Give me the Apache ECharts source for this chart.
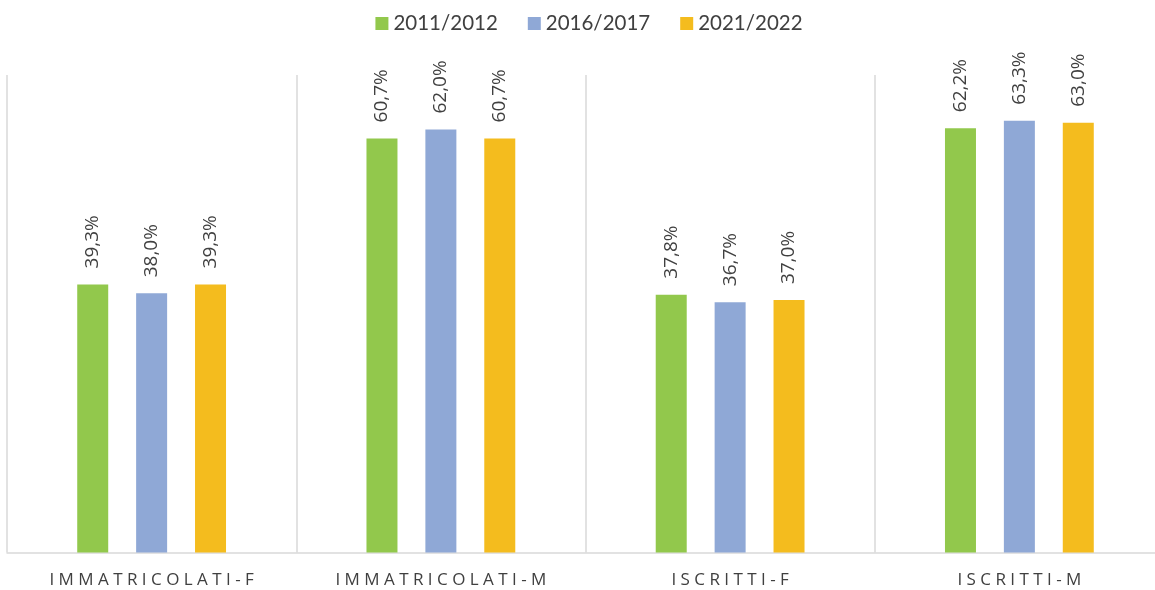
<!DOCTYPE html>
<html>
<head>
<meta charset="utf-8">
<script src="https://cdn.jsdelivr.net/npm/echarts@6/dist/echarts.min.js"></script>
<style>
html,body{margin:0;padding:0;background:#fff;overflow:hidden;}
body{width:1155px;height:590px;}
#c{width:1178px;height:590px;}
</style>
</head>
<body>
<div id="c"></div>
<script>
var categories = ['IMMATRICOLATI-F', 'IMMATRICOLATI-M', 'ISCRITTI-F', 'ISCRITTI-M'];
var seriesNames = ['2011/2012', '2016/2017', '2021/2022'];
var values2011 = [39.3, 60.7, 37.8, 62.2];
var values2016 = [38.0, 62.0, 36.7, 63.3];
var values2021 = [39.3, 60.7, 37.0, 63.0];
var colors = ['#92C84C', '#8FA8D6', '#F4BC1E'];

var chart = echarts.init(document.getElementById('c'), null, {renderer: 'canvas'});
var FONT = 'Lato, "Open Sans", sans-serif';
var FONT2 = '"Open Sans", Lato, sans-serif';

function mkSeries(name, data, color) {
  return {
    name: name,
    type: 'bar',
    data: data,
    barWidth: 31,
    barGap: '90%',
    itemStyle: {color: color},
    label: {
      show: true,
      position: 'top',
      rotate: 90,
      align: 'left',
      verticalAlign: 'middle',
      distance: 16,
      color: '#404040',
      fontFamily: FONT2,
      fontSize: 19,
      formatter: function (p) { return p.value.toFixed(1).replace('.', ',') + '%'; }
    }
  };
}

chart.setOption({
  animation: false,
  textStyle: {fontFamily: FONT},
  legend: {
    top: 8,
    left: 'center',
    itemWidth: 13,
    itemHeight: 13,
    itemGap: 30,
    icon: 'rect',
    textStyle: {fontSize: 20.5, color: '#404040', fontFamily: FONT},
    data: seriesNames
  },
  grid: {left: 7, top: 75, right: 14, bottom: 37.5, containLabel: false},
  xAxis: {
    type: 'category',
    data: categories,
    boundaryGap: true,
    axisLine: {show: true, lineStyle: {color: '#d9d9d9', width: 1.5}},
    axisTick: {show: false},
    splitLine: {show: true, interval: 0, lineStyle: {color: '#d9d9d9', width: 1.5}},
    axisLabel: {
      interval: 0,
      margin: 19,
      fontSize: 17,
      color: '#404040',
      fontFamily: FONT2,
      formatter: function (v) { return v.split('').join(' '); }
    }
  },
  yAxis: {
    type: 'value',
    min: 0,
    max: 70,
    show: false,
    splitLine: {show: false}
  },
  series: [
    mkSeries(seriesNames[0], values2011, colors[0]),
    mkSeries(seriesNames[1], values2016, colors[1]),
    mkSeries(seriesNames[2], values2021, colors[2])
  ]
});
</script>
</body>
</html>
